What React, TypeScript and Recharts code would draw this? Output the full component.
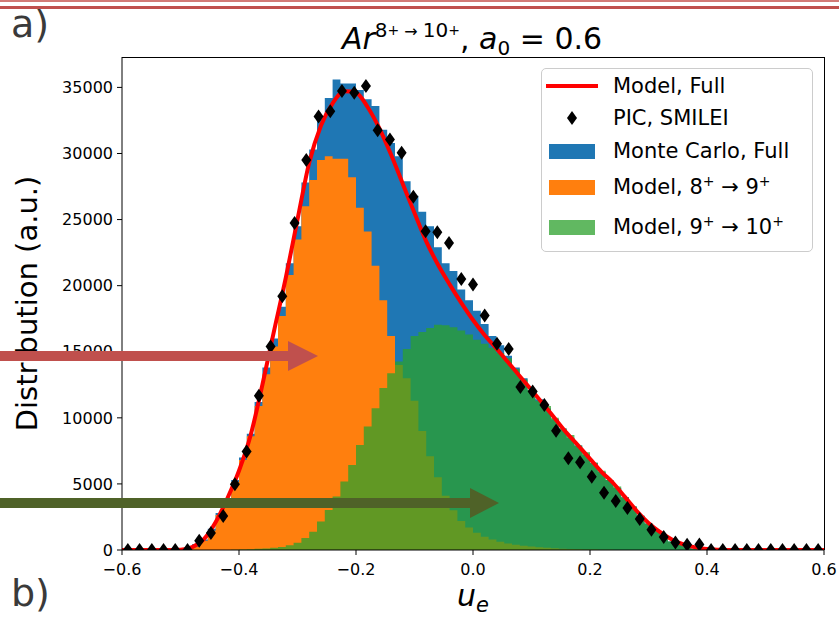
import {
  ComposedChart,
  Area,
  Line,
  Scatter,
  XAxis,
  YAxis,
  Legend,
} from "recharts";

// histogram: 90 bins over [-0.6, 0.6]
const BIN_COUNT = 90;
const U_MIN = -0.6;
const U_MAX = 0.6;
const Y_MAX = 37300;

const monteCarloFull = [
  0, 0, 0, 0, 0, 0, 0, 0, 150, 450,
  800, 1600, 2800, 3900, 5300, 7000, 8800, 11200, 13800, 16000,
  18400, 21700, 24500, 27800, 30300, 32600, 34200, 35600, 35300, 35300,
  34800, 34100, 33600, 31800, 30800, 29800, 27900, 26800, 25600, 24500,
  22900, 21700, 21100, 19700, 18900, 18100, 17100, 16200, 15500, 14700,
  13800, 13000, 12100, 11400, 10700, 9900, 9200, 8500, 7900, 7200,
  6600, 5900, 5300, 4700, 4000, 3300, 2600, 2000, 1450, 1000,
  650, 380, 200, 90, 30, 0, 0, 0, 0, 0,
  0, 0, 0, 0, 0, 0, 0, 0, 0, 0,
];

const model8to9 = [
  0, 0, 0, 0, 0, 0, 0, 0, 60, 250,
  700, 1450, 2650, 3750, 5150, 6800, 8600, 10900, 13300, 15400,
  17700, 20800, 23500, 26000, 28000, 29500, 29800, 29600, 29600, 28200,
  25900, 24100, 21500, 18900, 16200, 14000, 13000, 11300, 9000, 7100,
  5500, 4100, 3000, 2200, 1700, 1300, 1000, 800, 620, 500,
  400, 320, 260, 210, 170, 130, 100, 80, 60, 45,
  30, 20, 10, 0, 0, 0, 0, 0, 0, 0,
  0, 0, 0, 0, 0, 0, 0, 0, 0, 0,
  0, 0, 0, 0, 0, 0, 0, 0, 0, 0,
];

const model9to10 = [
  0, 0, 0, 0, 0, 0, 0, 0, 0, 0,
  0, 0, 0, 0, 20, 40, 60, 90, 120, 170,
  230, 350, 550, 900, 1390, 2150, 3030, 4040, 5180, 6440,
  7950, 9340, 10730, 12250, 13380, 14270, 15200, 16200, 16500, 16800,
  17050, 17000, 16850, 16600, 16300, 15900, 15600, 15300, 14900, 14500,
  13700, 12900, 12100, 11300, 10900, 10000, 9200, 8700, 7900, 7400,
  6600, 6000, 5300, 4800, 4000, 3300, 2600, 2000, 1450, 1000,
  650, 380, 200, 90, 30, 0, 0, 0, 0, 0,
  0, 0, 0, 0, 0, 0, 0, 0, 0, 0,
];

// model, full (smooth curve)
const modelU = [
  -0.6, -0.58, -0.56, -0.54, -0.52, -0.5, -0.48, -0.46, -0.44, -0.42,
  -0.4, -0.38, -0.36, -0.34, -0.32, -0.3, -0.28, -0.26, -0.24, -0.22,
  -0.2, -0.18, -0.16, -0.14, -0.12, -0.1, -0.08, -0.06, -0.04, -0.02,
  0, 0.02, 0.04, 0.06, 0.08, 0.1, 0.12, 0.14, 0.16, 0.18,
  0.2, 0.22, 0.24, 0.26, 0.28, 0.3, 0.32, 0.34, 0.36, 0.38,
  0.4, 0.42, 0.44, 0.46, 0.48, 0.5, 0.52, 0.54, 0.56, 0.58, 0.6,
];
const modelFull = [
  0, 0, 0, 0, 0, 20, 220, 820, 2100, 3900,
  6000, 8700, 12500, 16600, 20600, 25000, 29300, 32100, 33800, 34700,
  34600, 33500, 31900, 29900, 27700, 25500, 23350, 21600, 20100, 18700,
  17400, 16250, 15250, 14200, 13150, 12100, 11050, 9950, 8860, 7900,
  6900, 5900, 5050, 4000, 2950, 2050, 1350, 800, 420, 200,
  70, 20, 0, 0, 0, 0, 0, 0, 0, 0, 0,
];

// PIC, SMILEI
const picU = [
  -0.59, -0.57, -0.549, -0.529, -0.509, -0.488, -0.468, -0.448, -0.427, -0.407,
  -0.387, -0.366, -0.346, -0.326, -0.305, -0.285, -0.264, -0.244, -0.224, -0.203,
  -0.183, -0.163, -0.142, -0.122, -0.102, -0.081, -0.061, -0.041, -0.02, 0,
  0.02, 0.041, 0.061, 0.081, 0.102, 0.122, 0.142, 0.163, 0.183, 0.203,
  0.224, 0.244, 0.264, 0.285, 0.305, 0.326, 0.346, 0.366, 0.387, 0.407,
  0.427, 0.448, 0.468, 0.488, 0.509, 0.529, 0.549, 0.57, 0.59,
];
const picSmilei = [
  0, 0, 0, 0, 0, 0, 700, 1290, 2580, 4970,
  7450, 11670, 15400, 19190, 24750, 29500, 32800, 33200, 34720, 34600,
  35100, 31750, 31060, 30050, 26720, 24110, 24040, 23230, 20500, 20080,
  17750, 15600, 15200, 12330, 11990, 10980, 9020, 6950, 6640, 5550,
  4330, 3700, 3170, 2350, 1540, 980, 560, 400, 420, 0,
  0, 0, 0, 0, 0, 0, 0, 0, 0,
];

const xTicks = [-0.6, -0.4, -0.2, 0, 0.2, 0.4, 0.6];
const yTicks = [0, 5000, 10000, 15000, 20000, 25000, 30000, 35000];

const FONT = "DejaVu Sans";

// plot box in page pixels
const PLOT = { left: 122, right: 824, top: 57, bottom: 550 };

function buildHistRows() {
  const w = (U_MAX - U_MIN) / BIN_COUNT;
  const rows = [];
  for (let k = 0; k <= BIN_COUNT; k++) {
    const i = Math.min(k, BIN_COUNT - 1); // last edge just closes the step
    rows.push({
      u: U_MIN + k * w,
      blue: monteCarloFull[i],
      orange: model8to9[i],
      green: model9to10[i],
    });
  }
  return rows;
}

const histRows = buildHistRows();
const modelRows = modelU.map((u, i) => ({ u, model: modelFull[i] }));
const picRows = picU.map((u, i) => ({ u, pic: picSmilei[i] }));

const fmtX = (v: number) => v.toFixed(1).replace("-", "\u2212");

function Diamond(props: any) {
  const { cx, cy } = props;
  if (cx == null || cy == null) return null;
  return (
    <polygon
      points={`${cx},${cy - 7} ${cx + 5},${cy} ${cx},${cy + 7} ${cx - 5},${cy}`}
      fill="#000"
    />
  );
}

function XTitle(props: any) {
  const vb = props.viewBox || {};
  return (
    <text x={vb.x + vb.width / 2} y={606} textAnchor="middle" fontFamily={FONT} fontSize={30} fill="#000">
      <tspan fontStyle="italic">u</tspan>
      <tspan fontStyle="italic" fontSize={21} dy={6}>e</tspan>
    </text>
  );
}

function YTitle(props: any) {
  const vb = props.viewBox || {};
  const cy = vb.y + vb.height / 2;
  return (
    <text
      x={27}
      y={cy}
      transform={`rotate(-90, 27, ${cy})`}
      textAnchor="middle"
      dominantBaseline="central"
      fontFamily={FONT}
      fontSize={29}
      fill="#000"
    >
      Distribution (a.u.)
    </text>
  );
}

const sup = { fontSize: 14, verticalAlign: "super" as const, lineHeight: 0 };

const legendRows = [
  { key: "model", cy: 17, handle: "line", label: <>Model, Full</> },
  { key: "pic", cy: 49, handle: "diamond", label: <>PIC, SMILEI</> },
  { key: "mc", cy: 82, handle: "#1f77b4", label: <>Monte Carlo, Full</> },
  {
    key: "m89",
    cy: 118,
    handle: "#ff7f0e",
    label: (
      <>
        Model, 8<span style={sup}>+</span> → 9<span style={sup}>+</span>
      </>
    ),
  },
  {
    key: "m910",
    cy: 158,
    handle: "#61b861",
    label: (
      <>
        Model, 9<span style={sup}>+</span> → 10<span style={sup}>+</span>
      </>
    ),
  },
];

function LegendBox() {
  return (
    <div
      style={{
        position: "relative",
        width: 270,
        height: 182,
        border: "1px solid #cccccc",
        borderRadius: 5,
        background: "#fff",
        fontFamily: FONT,
        fontSize: 21,
        color: "#000",
      }}
    >
      {legendRows.map((r) => (
        <div key={r.key} style={{ position: "absolute", left: 0, top: r.cy - 15, height: 30, width: 270 }}>
          <svg width={60} height={30} style={{ position: "absolute", left: 0, top: 0 }}>
            {r.handle === "line" && <line x1={4} x2={56} y1={15} y2={15} stroke="#ff0000" strokeWidth={4} />}
            {r.handle === "diamond" && <polygon points="30,8 35,15 30,22 25,15" fill="#000" />}
            {r.handle.startsWith("#") && <rect x={7} y={8} width={46} height={15} fill={r.handle} />}
          </svg>
          <div style={{ position: "absolute", left: 71, top: 0, lineHeight: "30px", whiteSpace: "nowrap" }}>
            {r.label}
          </div>
        </div>
      ))}
    </div>
  );
}

function Annotations() {
  return (
    <svg
      width={839}
      height={620}
      style={{ position: "absolute", left: 0, top: 0, pointerEvents: "none" }}
    >
      {/* top and right spines */}
      <line x1={PLOT.left} x2={PLOT.right + 0.5} y1={PLOT.top + 0.5} y2={PLOT.top + 0.5} stroke="#000" strokeWidth={1} />
      <line x1={PLOT.right + 0.5} x2={PLOT.right + 0.5} y1={PLOT.top} y2={PLOT.bottom} stroke="#000" strokeWidth={1} />

      <rect x={0} y={0} width={839} height={2} fill="#d27a76" />
      <rect x={0} y={6} width={839} height={3} fill="#c0504d" />
      <text x={11} y={37} fontFamily={FONT} fontSize={38} fill="#3a3a3a">a)</text>
      <text x={11} y={606} fontFamily={FONT} fontSize={38} fill="#3a3a3a">b)</text>
      <text x={472} y={49} textAnchor="middle" fontFamily={FONT} fontSize={30} fill="#000">
        <tspan fontStyle="italic">Ar</tspan>
        <tspan fontSize={20} dy={-12}>8</tspan>
        <tspan fontSize={14} dy={-2}>+</tspan>
        <tspan fontSize={16} dy={2}> → </tspan>
        <tspan fontSize={20}>10</tspan>
        <tspan fontSize={14} dy={-2}>+</tspan>
        <tspan dy={14}>, </tspan>
        <tspan fontStyle="italic">a</tspan>
        <tspan fontSize={20} dy={6}>0</tspan>
        <tspan dy={-6}> = 0.6</tspan>
      </text>
      {/* arrows */}
      <rect x={0} y={351} width={290} height={10} fill="#c0504d" />
      <polygon points="288,341 318,356 288,371" fill="#c0504d" />
      <rect x={0} y={498} width={472} height={10} fill="#4f6228" />
      <polygon points="470,488 499,503 470,518" fill="#4f6228" />
    </svg>
  );
}

export default function App() {
  return (
    <div style={{ position: "absolute", left: 0, top: 0, width: 839, height: 620, background: "#fff" }}>
      <ComposedChart
        width={839}
        height={620}
        data={histRows}
        margin={{ top: PLOT.top, right: 839 - PLOT.right, bottom: 30, left: PLOT.left - 60 }}
        style={{ fontFamily: FONT }}
      >
        <XAxis
          dataKey="u"
          type="number"
          domain={[U_MIN, U_MAX]}
          ticks={xTicks}
          tickFormatter={fmtX}
          allowDataOverflow
          height={40}
          tickSize={5}
          tickMargin={9}
          stroke="#000"
          tick={{ fontSize: 16, fill: "#000", fontFamily: FONT }}
          label={(p: any) => <XTitle {...p} />}
        />
        <YAxis
          type="number"
          domain={[0, Y_MAX]}
          ticks={yTicks}
          allowDataOverflow
          width={60}
          tickSize={5}
          tickMargin={4}
          stroke="#000"
          tick={{ fontSize: 16, fill: "#000", fontFamily: FONT }}
          label={(p: any) => <YTitle {...p} />}
        />
        <Legend
          layout="vertical"
          align="center"
          verticalAlign="middle"
          wrapperStyle={{ left: 541, top: 68, width: 272, height: 184 }}
          content={() => <LegendBox />}
        />
        <Area
          type="stepAfter"
          dataKey="blue"
          name="Monte Carlo, Full"
          fill="#1f77b4"
          fillOpacity={1}
          stroke="none"
          isAnimationActive={false}
          activeDot={false}
        />
        <Area
          type="stepAfter"
          dataKey="orange"
          name="Model, 8+ → 9+"
          fill="#ff7f0e"
          fillOpacity={1}
          stroke="none"
          isAnimationActive={false}
          activeDot={false}
        />
        <Area
          type="stepAfter"
          dataKey="green"
          name="Model, 9+ → 10+"
          fill="#2ca02c"
          fillOpacity={0.75}
          stroke="none"
          isAnimationActive={false}
          activeDot={false}
        />
        <Line
          data={modelRows}
          type="monotone"
          dataKey="model"
          name="Model, Full"
          stroke="#ff0000"
          strokeWidth={4}
          dot={false}
          activeDot={false}
          isAnimationActive={false}
        />
        <Scatter
          data={picRows}
          dataKey="pic"
          name="PIC, SMILEI"
          fill="#000"
          shape={(p: any) => <Diamond {...p} />}
          isAnimationActive={false}
        />
      </ComposedChart>
      <Annotations />
    </div>
  );
}
